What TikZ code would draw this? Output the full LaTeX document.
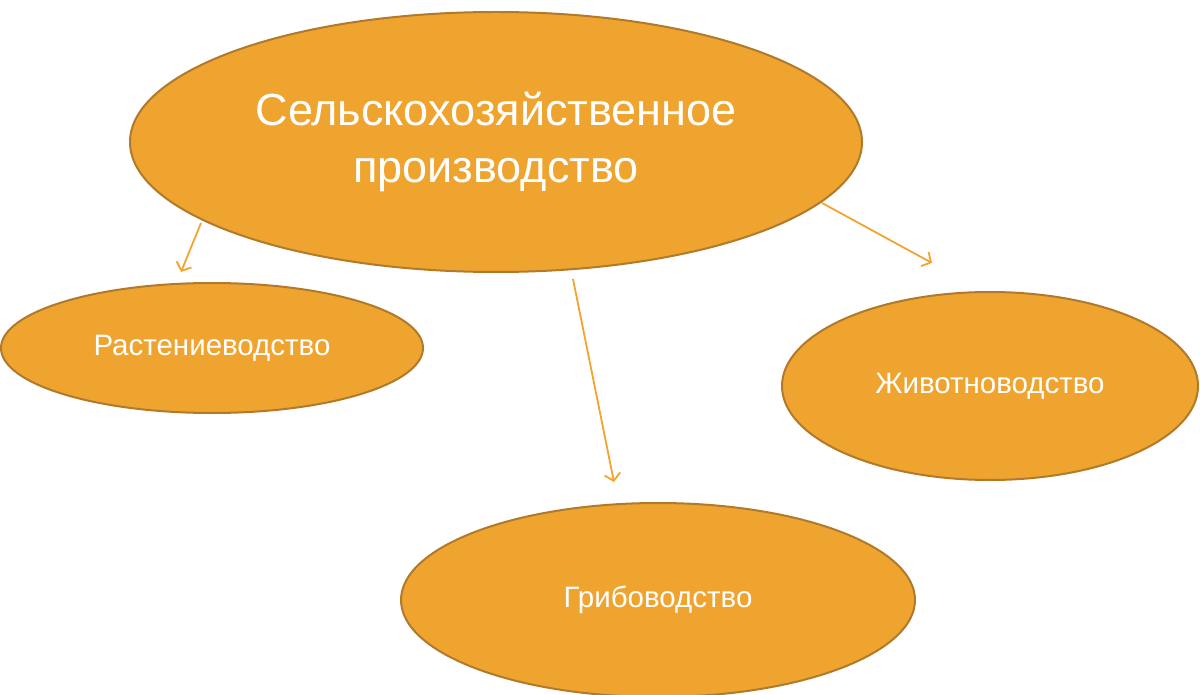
\documentclass[tikz,border=0pt]{standalone}
\usepackage{fontspec}
\setmainfont{Liberation Sans}
\usetikzlibrary{shapes.geometric,arrows.meta}
\definecolor{ofill}{HTML}{EFA42F}
\definecolor{oborder}{HTML}{B07A2A}
\definecolor{oarrow}{HTML}{F2A42E}
\tikzset{
  blob/.style={ellipse, fill=ofill, draw=oborder, line width=2pt, inner sep=0pt, text=white, align=center},
  small/.style={font=\fontsize{29.5}{34}\selectfont},
  link/.style={draw=oarrow, line width=1.8pt, -{Straight Barb[length=7pt,width=16pt,line width=1.8pt]}}
}
\begin{document}
\begin{tikzpicture}[x=1pt,y=-1pt]
\useasboundingbox (0,0) rectangle (1200,695);
\node[blob, minimum width=732pt, minimum height=260pt, font=\fontsize{45}{57}\selectfont] (main) at (496,142) {Сельскохозяйственное\\производство};
\node[blob, small, minimum width=422pt, minimum height=130pt] (plant) at (212,348) {Растениеводство};
\node[blob, small, minimum width=416pt, minimum height=188pt] (animal) at (990,386) {Животноводство};
\node[blob, small, minimum width=514pt, minimum height=194pt] (fungi) at (658,600) {Грибоводство};
\coordinate (a1s) at (201,223);
\coordinate (a1e) at (181,272);
\coordinate (a2s) at (822,203);
\coordinate (a2e) at (932,263);
\coordinate (a3s) at (573,279);
\coordinate (a3e) at (614,482);
\draw[link] (a1s) -- (a1e);
\draw[link] (a2s) -- (a2e);
\draw[link] (a3s) -- (a3e);
\end{tikzpicture}
\end{document}
